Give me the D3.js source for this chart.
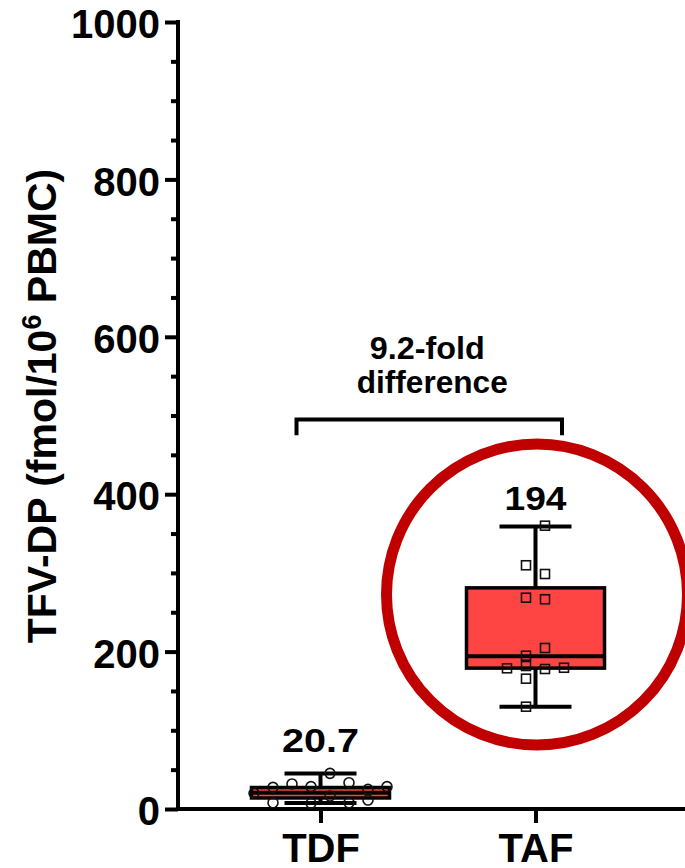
<!DOCTYPE html>
<html>
<head>
<meta charset="utf-8">
<script src="https://cdn.jsdelivr.net/npm/d3@7"></script>
<style>
  html, body { margin: 0; padding: 0; background: #fff; }
  svg { display: block; }
  text { font-family: "Liberation Sans", Arial, sans-serif; font-weight: bold; fill: #000; }
</style>
</head>
<body>
<svg id="chart" width="685" height="868"></svg>
<script>
// ---------------- data ----------------
const groups = ["TDF", "TAF"];
const tdfValues = [20, 27.5, 8, 31.8, 28.4, 7.2, 45.3, 16.5, 33.4, 8, 25, 11.4, 28.4];
const tdfCols   = [-3.5, -2.5, -2.5, -1.5, -0.5, -0.5, 0.5, 0.5, 1.5, 1.5, 2.5, 2.5, 3.5];
const tafValues = [360, 309.7, 298.6, 268.5, 266.5, 204.6, 194.8, 181.7, 178.8, 177.9, 179.5, 165.6, 130];
const tafCols   = [0.5, -0.5, 0.5, -0.5, 0.5, 0.5, -0.5, -0.5, -1.5, 0.5, 1.5, -0.5, -0.5];
const whiskerLow  = [7.5, 130];
const q1          = [14, 179];
const median      = [20.7, 194];
const q3          = [27.3, 281];
const whiskerHigh = [45, 359];
const medianLabels = ["20.7", "194"];
const yTicks = [0, 200, 400, 600, 800, 1000];
const yMinorTicks = d3.range(0, 1001, 50);
const annotationLines = ["9.2-fold", "difference"];
const bracketValue = 495;
const bracketLegValue = 475;
const yTitle = "TFV-DP (fmol/10";
const yTitleSup = "6";
const yTitleEnd = " PBMC)";

// ---------------- layout ----------------
const svg = d3.select("#chart");
const y = d3.scaleLinear().domain([0, 1000]).range([809, 22]);
const x = d3.scalePoint().domain(groups).range([320.5, 535.5]);
const colStep = 19;
const boxW = 138, capW = 72;

// Highlight circle around TAF
svg.append("circle")
  .attr("cx", x("TAF") + 1.5)
  .attr("cy", y(272.5))
  .attr("r", 150.5)
  .attr("fill", "none")
  .attr("stroke", "#c00000")
  .attr("stroke-width", 11);

// Y axis
const yAxis = d3.axisLeft(y).tickValues(yTicks).tickSize(13).tickPadding(5).tickFormat(d3.format("d"));
const gy = svg.append("g").attr("transform", "translate(178,0)").call(yAxis);
gy.select(".domain").remove();
gy.selectAll(".tick line").attr("stroke", "#000").attr("stroke-width", 4);
gy.selectAll(".tick text")
  .attr("font-size", 40)
  .attr("font-family", "'Liberation Sans', Arial, sans-serif")
  .attr("font-weight", "bold")
  .attr("fill", "#000")
  .attr("dy", "0.39em");
const yMinor = d3.axisLeft(y).tickValues(yMinorTicks.filter(v => !yTicks.includes(v))).tickSize(7).tickFormat("");
const gyMinor = svg.append("g").attr("transform", "translate(178,0)").call(yMinor);
gyMinor.select(".domain").remove();
gyMinor.selectAll(".tick line").attr("stroke", "#000").attr("stroke-width", 4);
svg.append("line")
  .attr("x1", 178).attr("x2", 178)
  .attr("y1", y(1000) - 2).attr("y2", y(0) + 2)
  .attr("stroke", "#000").attr("stroke-width", 4);

// X axis
svg.append("line")
  .attr("x1", 176).attr("x2", 685)
  .attr("y1", y(0)).attr("y2", y(0))
  .attr("stroke", "#000").attr("stroke-width", 4);
const xAxis = d3.axisBottom(x).tickSize(14).tickPadding(11);
const gx = svg.append("g").attr("transform", `translate(0,${y(0)})`).call(xAxis);
gx.select(".domain").remove();
gx.selectAll(".tick line").attr("stroke", "#000").attr("stroke-width", 4);
gx.selectAll(".tick text")
  .attr("font-size", 40)
  .attr("font-family", "'Liberation Sans', Arial, sans-serif")
  .attr("font-weight", "bold")
  .attr("fill", "#000")
  .attr("dy", "0.71em");

// Y title
const title = svg.append("text")
  .attr("transform", `translate(56,${406}) rotate(-90)`)
  .attr("text-anchor", "middle")
  .attr("font-size", 41);
title.append("tspan").text(yTitle);
title.append("tspan").attr("font-size", 27).attr("dy", -15).text(yTitleSup);
title.append("tspan").attr("dy", 15).text(yTitleEnd);

// Boxes
groups.forEach((g, i) => {
  const cx = x(g);
  const gBox = svg.append("g");
  gBox.append("line").attr("x1", cx).attr("x2", cx)
    .attr("y1", y(whiskerHigh[i])).attr("y2", y(whiskerLow[i]))
    .attr("stroke", "#000").attr("stroke-width", 4);
  [whiskerHigh[i], whiskerLow[i]].forEach(v => {
    gBox.append("line").attr("x1", cx - capW / 2).attr("x2", cx + capW / 2)
      .attr("y1", y(v)).attr("y2", y(v))
      .attr("stroke", "#000").attr("stroke-width", 4);
  });
  gBox.append("rect")
    .attr("x", cx - boxW / 2).attr("width", boxW)
    .attr("y", y(q3[i])).attr("height", y(q1[i]) - y(q3[i]))
    .attr("fill", "#ff4444").attr("stroke", "#000").attr("stroke-width", 3.5);
  gBox.append("line").attr("x1", cx - boxW / 2).attr("x2", cx + boxW / 2)
    .attr("y1", y(median[i])).attr("y2", y(median[i]))
    .attr("stroke", "#000").attr("stroke-width", 4);
});

// Points
const tdfPts = tdfValues.map((v, i) => ({ v, c: tdfCols[i] }));
const tafPts = tafValues.map((v, i) => ({ v, c: tafCols[i] }));
svg.append("g").selectAll("circle").data(tdfPts).join("circle")
  .attr("cx", d => x("TDF") + d.c * colStep)
  .attr("cy", d => y(d.v))
  .attr("r", 5)
  .attr("fill", "none").attr("stroke", "#111").attr("stroke-width", 1.6);
const sq = 9;
svg.append("g").selectAll("rect").data(tafPts).join("rect")
  .attr("x", d => x("TAF") + d.c * colStep - sq / 2)
  .attr("y", d => y(d.v) - sq / 2)
  .attr("width", sq).attr("height", sq)
  .attr("fill", "none").attr("stroke", "#111").attr("stroke-width", 1.6);

// Median labels
const labelGap = [22, 16.5];
const labelLen = [77, 62];
groups.forEach((g, i) => {
  svg.append("text")
    .attr("x", x(g)).attr("y", y(whiskerHigh[i]) - labelGap[i])
    .attr("text-anchor", "middle")
    .attr("font-family", "Lato, 'Open Sans', sans-serif")
    .attr("font-size", 33)
    .attr("textLength", labelLen[i])
    .attr("lengthAdjust", "spacingAndGlyphs")
    .text(medianLabels[i]);
});

// Bracket
const bx1 = x("TDF") - 24, bx2 = x("TAF") + 26.5;
svg.append("path")
  .attr("d", `M${bx1},${y(bracketLegValue)} V${y(bracketValue)} H${bx2} V${y(bracketLegValue)}`)
  .attr("fill", "none").attr("stroke", "#000").attr("stroke-width", 4);

// Annotation
const annX = (bx1 + bx2) / 2;
svg.append("text").attr("x", annX - 2).attr("y", 359).attr("text-anchor", "middle")
  .attr("font-size", 31).attr("textLength", 115).attr("lengthAdjust", "spacingAndGlyphs")
  .text(annotationLines[0]);
svg.append("text").attr("x", annX + 3).attr("y", 393).attr("text-anchor", "middle")
  .attr("font-size", 31).attr("textLength", 151).attr("lengthAdjust", "spacingAndGlyphs")
  .text(annotationLines[1]);
</script>
</body>
</html>
